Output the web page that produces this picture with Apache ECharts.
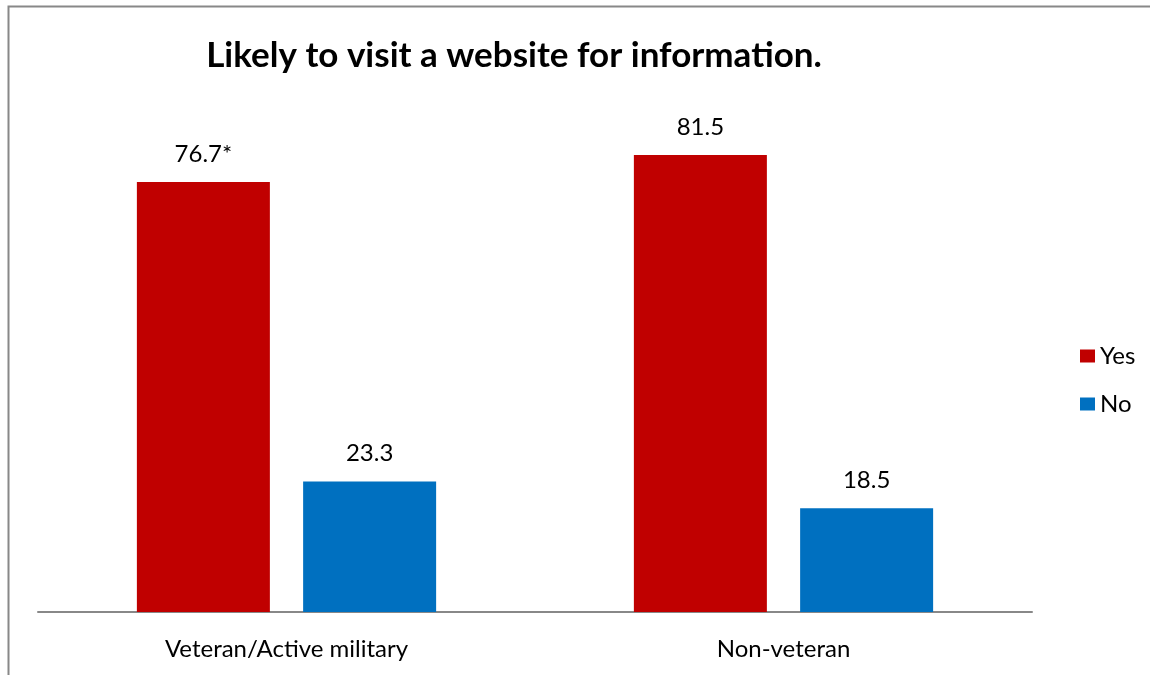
<!DOCTYPE html>
<html>
<head>
<meta charset="utf-8">
<script src="https://cdn.jsdelivr.net/npm/echarts@6/dist/echarts.min.js"></script>
<style>
html,body{margin:0;padding:0;background:#fff;}
#chart{width:1150px;height:675px;}
</style>
</head>
<body>
<div id="chart"></div>
<script>
const categories = ['Veteran/Active military', 'Non-veteran'];
const yesValues = [76.7, 81.5];
const noValues = [23.3, 18.5];
const yesLabels = ['76.7*', '81.5'];
const noLabels = ['23.3', '18.5'];

const chart = echarts.init(document.getElementById('chart'));
const FONT = 'Lato';
chart.setOption({
  animation: false,
  backgroundColor: '#fff',
  graphic: [{
    type: 'rect',
    shape: { x: 8.5, y: 6.5, width: 1200, height: 700 },
    style: { fill: 'none', stroke: '#888', lineWidth: 2 },
    silent: true
  }],
  title: {
    text: 'Likely to visit a website for information.',
    left: 509, top: 33, textAlign: 'center',
    textStyle: { fontFamily: FONT, fontWeight: 'bold', fontSize: 35, color: '#000' }
  },
  legend: {
    orient: 'vertical',
    left: 1075, top: 339,
    itemWidth: 15, itemHeight: 13, itemGap: 24,
    icon: 'rect',
    textStyle: { fontFamily: FONT, fontSize: 24, color: '#000' },
    data: ['Yes', 'No']
  },
  grid: { left: 38, right: 118, top: 51.4, bottom: 63, containLabel: false },
  xAxis: {
    type: 'category',
    data: categories,
    axisLine: { lineStyle: { color: '#888', width: 2 } },
    axisTick: { show: false },
    axisLabel: { fontFamily: FONT, fontSize: 24, color: '#000', margin: 25 }
  },
  yAxis: {
    type: 'value', min: 0, max: 100,
    show: false, splitLine: { show: false }
  },
  series: [
    {
      name: 'Yes', type: 'bar', data: yesValues, barWidth: 133, barGap: '25%',
      itemStyle: { color: '#C00000' },
      label: { show: true, position: 'top', distance: 16, fontFamily: FONT, fontSize: 24, color: '#000',
        formatter: p => yesLabels[p.dataIndex] }
    },
    {
      name: 'No', type: 'bar', data: noValues, barWidth: 133,
      itemStyle: { color: '#0070C0' },
      label: { show: true, position: 'top', distance: 16, fontFamily: FONT, fontSize: 24, color: '#000',
        formatter: p => noLabels[p.dataIndex] }
    }
  ]
});
</script>
</body>
</html>
